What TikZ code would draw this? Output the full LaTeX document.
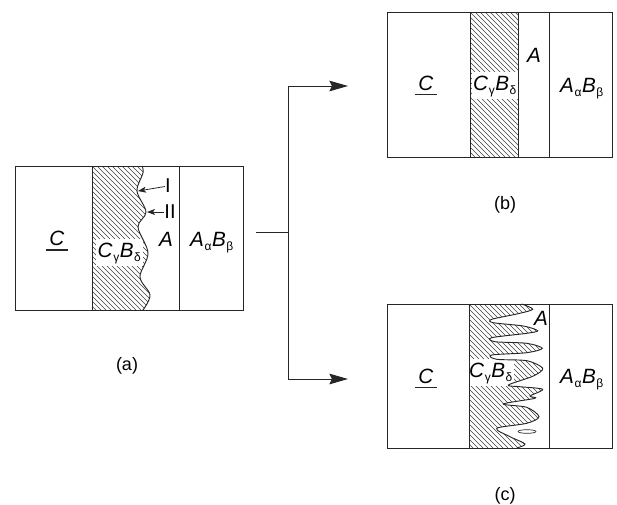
\documentclass[tikz,border=0pt]{standalone}
\usepackage{fontspec}
\setmainfont{Liberation Sans}
\usetikzlibrary{arrows.meta}
\newcommand{\hatchfill}[3]{% xmin ymin ymax
  \foreach \k in {-200,-195,...,700}{
    \draw[hatchline] (\k+#1,#2) -- ++(#3-#2,#3-#2);
  }}
\newcommand{\subl}[1]{\kern0.4pt\raisebox{-0.4ex}{\fontsize{9pt}{10pt}\selectfont #1}\kern0.4pt}
\newcommand{\AB}{\textit{A}\subl{α}\textit{B}\subl{β}}
\newcommand{\CB}{\textit{C}\subl{γ}\textit{B}\subl{δ}}
\newcommand{\fingers}{(521.7,304) (532.7,309.3) (516.7,314) (491.7,319.3) (493.3,322.7) (523.3,326) (537.7,330.7) (526.7,333.3) (491.7,337.7) (495,341.7) (526.7,343.3) (542.3,348.3) (526.7,352.7) (491.7,355) (496.7,359.3) (526.7,360.7) (542.7,368.3) (533.3,376) (508.3,385) (520,386.7) (542.7,389.3) (530,396) (535,398.3) (503.3,404) (526.7,407.3) (539,416.7) (526.7,423.3) (496.7,428.3) (510,436.7) (525,444) (516.7,448)}
\newcommand{\wavea}{(142,166) (143,173) (137,191) (146,212) (138,227) (148,253) (140,277) (150,295) (143,310)}
\tikzset{
  x=0.75pt,y=-0.75pt,
  boxline/.style={line width=0.75pt,draw=black!85},
  hatchline/.style={line width=0.4pt,black!75},
  wavyline/.style={line width=0.7pt,black!85},
  lab/.style={font=\fontsize{15.5pt}{17pt}\selectfont,inner sep=0.5pt},
  baselab/.style={lab,anchor=base},
  ulab/.style={lab,inner xsep=2.5pt,inner ysep=3pt},
  under/.style={line width=1pt,black!85},
  patchlab/.style={baselab,fill=white,inner xsep=1pt,inner ysep=2.5pt,text depth=4pt},
  caplab/.style={font=\fontsize{13.5pt}{15pt}\selectfont,inner sep=0pt},
  romanlab/.style={font=\fontsize{15pt}{17pt}\selectfont,inner sep=0pt},
  flowline/.style={line width=0.7pt,black!85,-{Stealth[length=14pt,width=8pt,inset=2pt]}},
  smallarrow/.style={line width=0.6pt,black!85,-{Stealth[length=6pt,width=4.5pt,inset=1.5pt]}},
}
\begin{document}
\begin{tikzpicture}
\useasboundingbox (0,0) rectangle (617,504);
% ---- (a)
\begin{scope}
\clip plot[smooth,tension=0.55] coordinates {\wavea} -- (92,310) -- (92,166) -- cycle;
\hatchfill{92}{166}{310}
\end{scope}
\node[patchlab] (aCB) at (119.5,257) {\CB};
\draw[wavyline] plot[smooth,tension=0.55] coordinates {\wavea};
\draw[boxline] (15,166) rectangle (243,310);
\draw[boxline] (92,166) -- (92,310) (179,166) -- (179,310);
\node[ulab] (aC) at (57,238.5) {\textit{C}};
\draw[under] (aC.south west) -- (aC.south east);
\node[lab] (aA) at (166,239) {\textit{A}};
\node[baselab] (aAB) at (212,246) {\AB};
\node[romanlab] (aI) at (168,186) {I};
\node[romanlab] (aII) at (170,212) {II};
\coordinate (aIend) at (138,191);
\coordinate (aIIend) at (147,212);
\draw[smallarrow] (aI) -- (aIend);
\draw[smallarrow] (aII) -- (aIIend);
\node[caplab] (alab) at (127,366) {(a)};
% ---- (b)
\begin{scope}
\clip (470,12) rectangle (518,157);
\hatchfill{470}{12}{157}
\end{scope}
\node[patchlab] (bCB) at (495,90) {\CB};
\draw[boxline] (387,12) rectangle (612,157);
\draw[boxline] (470,12) -- (470,157) (518,12) -- (518,157) (549,12) -- (549,157);
\node[ulab] (bC) at (426,83) {\textit{C}};
\draw[under] (bC.south west) -- (bC.south east);
\node[lab] (bA) at (534,55) {\textit{A}};
\node[baselab] (bAB) at (582,92) {\AB};
\node[caplab] (blab) at (505,205) {(b)};
% ---- (c)
\begin{scope}
\clip plot[smooth,tension=0.5] coordinates {\fingers} -- (469,448) -- (469,304) -- cycle;
\hatchfill{469}{304}{448}
\end{scope}
\node[patchlab] (cCB) at (491,377) {\CB};
\draw[wavyline] plot[smooth,tension=0.5] coordinates {\fingers};
\draw[wavyline,line width=0.5pt] (527,431.5) ellipse (9 and 1.8);
\draw[boxline] (387,304) rectangle (612,448);
\draw[boxline] (469,304) -- (469,448) (549,304) -- (549,448);
\node[ulab] (cC) at (426,376) {\textit{C}};
\draw[under] (cC.south west) -- (cC.south east);
\node[lab] (cA) at (541,318) {\textit{A}};
\node[baselab] (cAB) at (582,383) {\AB};
\node[caplab] (clab) at (505,496) {(c)};
% ---- connector
\coordinate (start) at (256,232);
\coordinate (junction) at (288,232);
\coordinate (up) at (288,86);
\coordinate (down) at (288,379);
\coordinate (bend) at (348,86);
\coordinate (cend) at (348,379);
\draw[wavyline] (start) -- (junction);
\draw[flowline] (junction) -- (up) -- (bend);
\draw[flowline] (junction) -- (down) -- (cend);
\end{tikzpicture}
\end{document}
